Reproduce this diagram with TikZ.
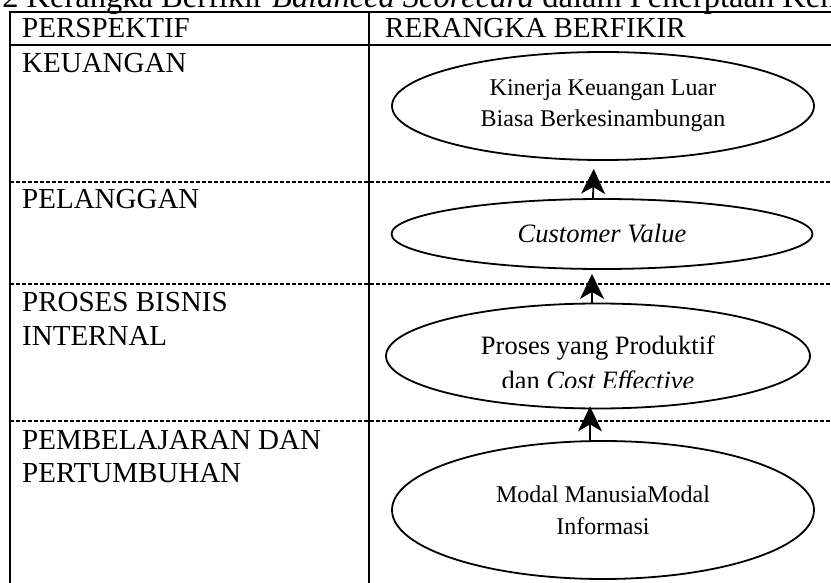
\documentclass[tikz,border=0pt]{standalone}
\usepackage{fontspec}
\setmainfont{Liberation Serif}
\usetikzlibrary{arrows.meta,shapes.geometric}
\begin{document}
\begin{tikzpicture}[x=1pt,y=-1pt,
  solidline/.style={line width=2pt},
  dashline/.style={line width=2pt, dash pattern=on 4pt off 2pt},
  cell/.style={anchor=base west, inner sep=0pt, font=\fontsize{29}{34}\selectfont},
  oval/.style={ellipse, draw, line width=1.8pt, inner sep=0pt, align=center},
  arr/.style={line width=1.8pt, -{Stealth[length=25pt,width=24pt,inset=7pt]}},
]
\useasboundingbox (0,0) rectangle (831,583);
\clip (0,0) rectangle (831,583);

% title (cut at the top edge)
\node[anchor=base west, inner sep=0pt, font=\fontsize{32.5}{36}\selectfont] (title) at (-6,8)
  {.2 Kerangka Berfikir \textit{Balanced Scorecard} dalam Penerptaan Ken};

% table lines
\draw[solidline] (10,12) -- (840,12);
\draw[solidline] (10,45) -- (840,45);
\draw[solidline] (10,11) -- (10,590);
\draw[solidline] (369,11) -- (369,590);
\draw[dashline] (10,182) -- (840,182);
\draw[dashline] (10,284) -- (840,284);
\draw[dashline] (10,421) -- (840,421);

% left column texts
\node[cell] (h1) at (22,38) {PERSPEKTIF};
\node[cell] (h2) at (385,38) {RERANGKA BERFIKIR};
\node[cell] (k1) at (22,73) {KEUANGAN};
\node[cell] (p1) at (22,209) {PELANGGAN};
\node[cell] (b1) at (22,312) {PROSES BISNIS};
\node[cell] (b2) at (22,345) {INTERNAL};
\node[cell] (l1) at (22,449) {PEMBELAJARAN DAN};
\node[cell] (l2) at (22,482) {PERTUMBUHAN};

% ellipses
\node[oval, minimum width=422pt, minimum height=108pt, font=\fontsize{24}{31}\selectfont] (e1) at (603,106)
  {Kinerja Keuangan Luar\\Biasa Berkesinambungan};
\node[oval, minimum width=421pt, minimum height=70pt, font=\fontsize{26.5}{32}\selectfont\itshape] (e2) at (602,234)
  {Customer Value};
\node[oval, minimum width=424pt, minimum height=105pt] (e3) at (598,356) {};
\begin{scope}
  \clip (370,300) rectangle (830,387);
  \node[inner sep=0pt, align=center, font=\fontsize{26.5}{35}\selectfont] (e3t) at ([yshift=-9pt]e3.center)
    {Proses yang Produktif\\dan \textit{Cost Effective}};
\end{scope}
\node[oval, minimum width=422pt, minimum height=138pt, font=\fontsize{24}{32}\selectfont] (e4) at (603,510)
  {Modal ManusiaModal\\Informasi};

% arrows
\draw[arr, shorten >=8pt] ([xshift=-9pt]e2.north) -- ([xshift=-9pt]e1.south);
\draw[arr, shorten >=4pt] ([xshift=-6pt]e3.north) -- ([xshift=-6pt]e3.north |- e2.south);
\draw[arr, shorten >=-3pt] ([xshift=-13pt]e4.north) -- ([xshift=-13pt]e4.north |- e3.south);
\end{tikzpicture}
\end{document}
